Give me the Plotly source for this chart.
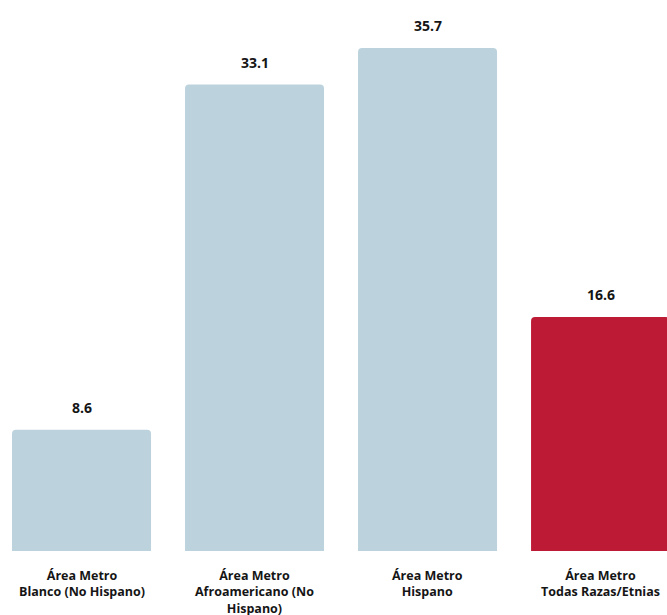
import plotly.graph_objects as go

categories = ["Área Metro<br>Blanco (No Hispano)",
              "Área Metro<br>Afroamericano (No<br>Hispano)",
              "Área Metro<br>Hispano",
              "Área Metro<br>Todas Razas/Etnias"]
values = [8.6, 33.1, 35.7, 16.6]
value_labels = ["8.6", "33.1", "35.7", "16.6"]
colors = ["#bcd3dd", "#bcd3dd", "#bcd3dd", "#bd1a36"]

FONT = "Open Sans"
xs = list(range(len(categories)))

fig = go.Figure()
fig.add_trace(go.Bar(
    x=xs, y=values, width=0.8035,
    marker=dict(color=colors, line=dict(width=0)),
    hoverinfo="skip",
))

annotations = []
for x, v, t in zip(xs, values, value_labels):
    annotations.append(dict(x=x, y=v, xref="x", yref="y", text="<b>%s</b>" % t,
                            showarrow=False, yanchor="bottom", yshift=11,
                            font=dict(family=FONT, size=14, color="#151515")))
for x, c in zip(xs, categories):
    annotations.append(dict(x=x, y=0, xref="x", yref="y",
                            text="<b>%s</b>" % c.replace("<br>", "</b><br><b>"),
                            showarrow=False, yanchor="top", yshift=-14,
                            font=dict(family=FONT, size=12.5, color="#151515")))

fig.update_layout(
    width=667, height=615,
    margin=dict(l=0, r=0, t=0, b=64),
    paper_bgcolor="white", plot_bgcolor="white",
    barcornerradius=4,
    showlegend=False,
    xaxis=dict(range=[-0.4711, 3.384], showticklabels=False, showgrid=False,
               zeroline=False, showline=False, ticks=""),
    yaxis=dict(range=[0, 39.1], showticklabels=False, showgrid=False,
               zeroline=False, showline=False, ticks=""),
    annotations=annotations,
    font=dict(family=FONT),
)
fig.write_html("out.html", config={"displayModeBar": False},
               post_script="document.body.style.margin='0';document.body.style.padding='0';")
